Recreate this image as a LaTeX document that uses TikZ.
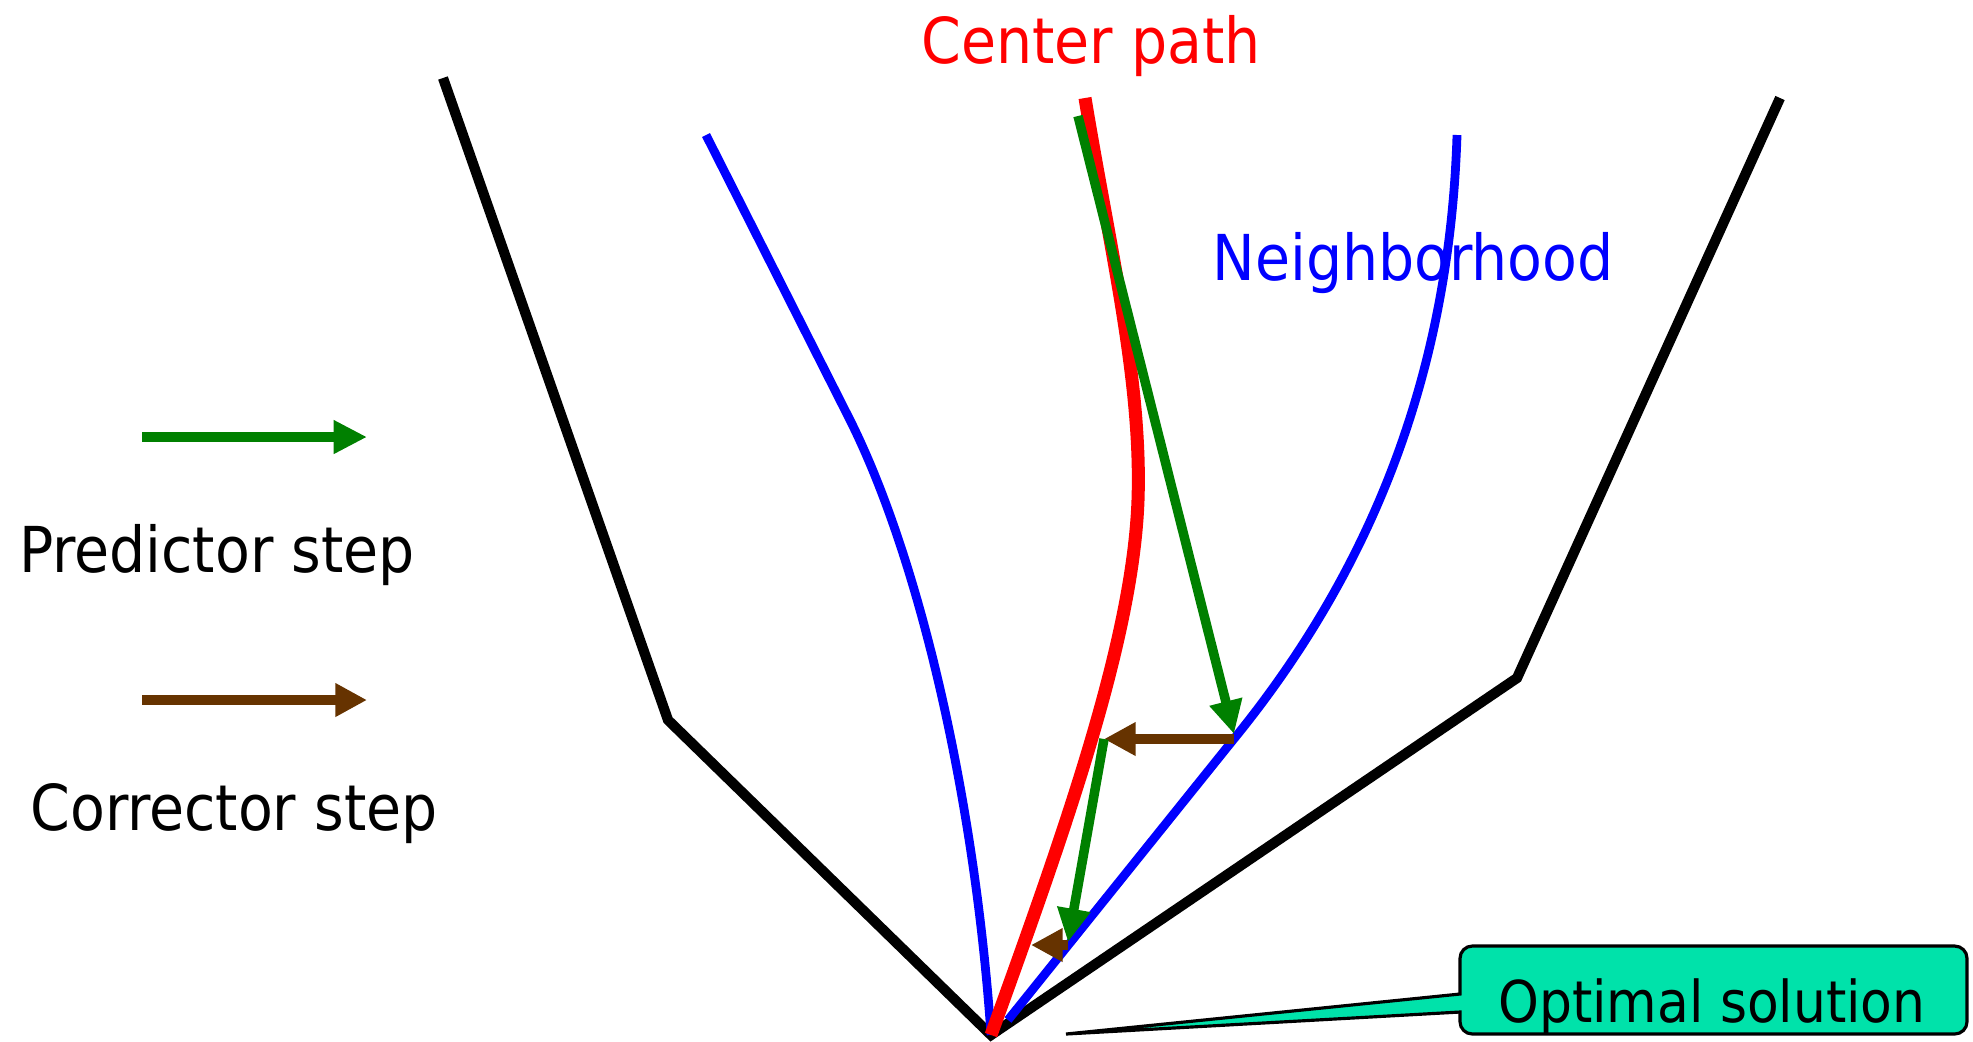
\documentclass[tikz,border=0pt]{standalone}
\usepackage{fontspec}
\setmainfont{DejaVu Sans Condensed}
\usetikzlibrary{arrows.meta}
\definecolor{stepgreen}{RGB}{0,128,0}
\definecolor{stepbrown}{RGB}{102,51,0}
\definecolor{optfill}{RGB}{0,226,170}

\begin{document}
\begin{tikzpicture}[x=0.01cm, y=-0.01cm, font=\fontsize{18}{22}\selectfont]
\tikzset{
  wall/.style={line width=2.9pt, line join=miter},
  nbhd/.style={blue, line width=2.5pt},
  cpath/.style={red, line width=3.7pt},
  pred/.style={stepgreen, line width=2.7pt, -{Triangle[length=9.5pt, width=9pt]}},
  corr/.style={stepbrown, line width=3pt, -{Triangle[length=9pt, width=9pt]}},
  lab/.style={inner sep=0pt, anchor=base},
  optbox/.style={draw=black, fill=optfill, line width=0.9pt}}
\useasboundingbox (0,0) rectangle (1973,1041);

% ---------------- feasible region ----------------
\coordinate (xopt) at (991,1035);
\draw[wall] (443,78) -- (668,720) -- (xopt) -- (1517,678) -- (1780,98);

% ---------------- neighborhood and center path ----------------
\draw[nbhd] (706,135) -- (850,420) .. controls (920,560) and (975,800) .. (xopt);
\draw[nbhd] (1457,135) .. controls (1450,360) and (1380,560) .. (1233,740) -- (1008,1020);
\draw[cpath] (1085,98) .. controls (1110,250) and (1142,380) .. (1138,500)
  .. controls (1133,640) and (1065,830) .. (xopt);

\node[lab, red] (cp) at (1091,63) {Center path};
\node[lab, blue] (nb) at (1413,280) {Neighborhood};

% ---------------- predictor / corrector iterates ----------------
\coordinate (z0) at (1078,116);
\coordinate (z1) at (1234,734);
\coordinate (z2) at (1104,739);
\coordinate (z3) at (1068,942);
\coordinate (z4) at (1031,945);
\draw[pred] (z0) -- (z1);
\draw[corr] (z1 |- z2) -- (z2);
\draw[pred] (z2) -- (z3);
\draw[corr] (z3 |- z4) -- (z4);

% ---------------- legend ----------------
\coordinate (gl) at (142,437);
\coordinate (gr) at (367,437);
\coordinate (bl) at (142,700);
\coordinate (br) at (367,700);
\draw[pred] (gl) -- (gr);
\draw[corr] (bl) -- (br);
\node[lab] (ps) at (217,572) {Predictor step};
\node[lab] (cs) at (234,830) {Corrector step};

% ---------------- callout ----------------
\coordinate (tip) at (1066,1034);
\draw[optbox] (1460,994) [rounded corners=3.5pt] -- (1460,946) -- (1967,946)
  -- (1967,1034) -- (1460,1034) [sharp corners] -- (1460,1012) -- (tip) -- cycle;
\node[lab, font=\fontsize{16.4}{20}\selectfont] (os) at (1712,1022) {Optimal solution};
\end{tikzpicture}
\end{document}
